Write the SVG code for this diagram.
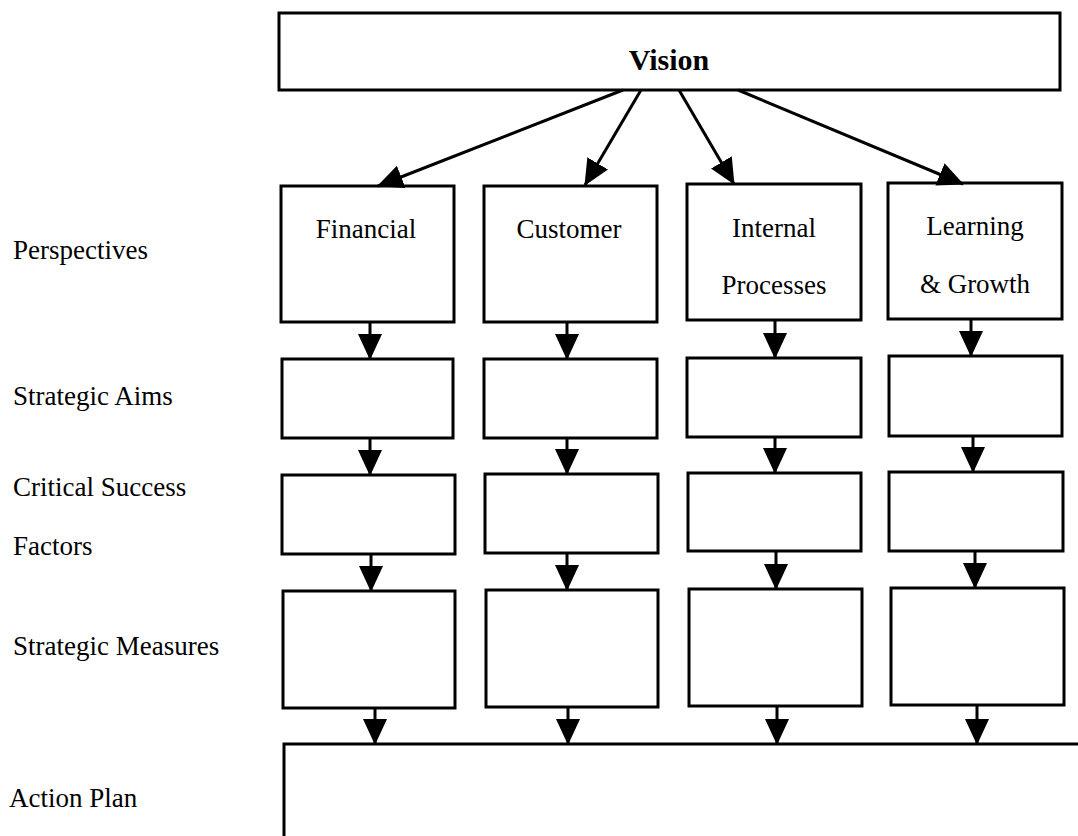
<svg xmlns="http://www.w3.org/2000/svg" width="1078" height="836" viewBox="0 0 1078 836">
  <style>
    .box { fill: #ffffff; stroke: #000000; stroke-width: 3; }
    .lbl { font-family: "Liberation Serif", "Times New Roman", serif; font-size: 27px; fill: #000000; }
    .mid { text-anchor: middle; }
    .title { font-weight: bold; font-size: 30px; }
    .conn { stroke: #000000; stroke-width: 3; fill: none; marker-end: url(#head); }
  </style>
  <defs>
    <marker id="head" markerUnits="userSpaceOnUse" markerWidth="26" markerHeight="24" viewBox="0 0 26 24" refX="25" refY="12" orient="auto">
      <path d="M0,0 L26,12 L0,24 Z" fill="#000000"/>
    </marker>
  </defs>

  <rect width="1078" height="836" fill="#ffffff"/>

  <!-- row labels -->
  <g id="row-labels">
    <text class="lbl" x="13" y="259">Perspectives</text>
    <text class="lbl" x="13" y="405">Strategic Aims</text>
    <text class="lbl" x="13" y="496">Critical Success</text>
    <text class="lbl" x="13" y="555">Factors</text>
    <text class="lbl" x="13" y="655">Strategic Measures</text>
    <text class="lbl" x="9" y="807">Action Plan</text>
  </g>

  <!-- top node -->
  <g id="vision">
    <rect class="box" x="279" y="13" width="781" height="77"/>
    <text class="lbl title mid" x="669" y="70">Vision</text>
  </g>

  <!-- perspectives -->
  <g id="financial">
    <rect class="box" x="281" y="186" width="173" height="136"/>
    <text class="lbl mid" x="366" y="238">Financial</text>
  </g>
  <g id="customer">
    <rect class="box" x="484" y="186" width="173" height="136"/>
    <text class="lbl mid" x="569" y="238">Customer</text>
  </g>
  <g id="internal">
    <rect class="box" x="687" y="184" width="174" height="136"/>
    <text class="lbl mid" x="774" y="237">Internal</text>
    <text class="lbl mid" x="774" y="294">Processes</text>
  </g>
  <g id="learning">
    <rect class="box" x="888" y="183" width="174" height="136"/>
    <text class="lbl mid" x="975" y="235">Learning</text>
    <text class="lbl mid" x="975" y="293">&amp; Growth</text>
  </g>

  <!-- strategic aims -->
  <g id="aims-financial"><rect class="box" x="282" y="359" width="171" height="79"/></g>
  <g id="aims-customer"><rect class="box" x="484" y="359" width="173" height="79"/></g>
  <g id="aims-internal"><rect class="box" x="687" y="358" width="174" height="79"/></g>
  <g id="aims-learning"><rect class="box" x="889" y="356" width="173" height="80"/></g>

  <!-- critical success factors -->
  <g id="csf-financial"><rect class="box" x="282" y="475" width="173" height="79"/></g>
  <g id="csf-customer"><rect class="box" x="485" y="474" width="173" height="79"/></g>
  <g id="csf-internal"><rect class="box" x="688" y="473" width="173" height="78"/></g>
  <g id="csf-learning"><rect class="box" x="889" y="472" width="174" height="79"/></g>

  <!-- strategic measures -->
  <g id="measures-financial"><rect class="box" x="283" y="591" width="172" height="117"/></g>
  <g id="measures-customer"><rect class="box" x="486" y="590" width="172" height="117"/></g>
  <g id="measures-internal"><rect class="box" x="689" y="589" width="173" height="117"/></g>
  <g id="measures-learning"><rect class="box" x="891" y="588" width="173" height="117"/></g>

  <!-- action plan: open-ended frame running off the page -->
  <g id="action-plan">
    <path d="M284,836 L284,744 L1078,744" fill="none" stroke="#000000" stroke-width="3"/>
  </g>

  <g id="connectors">
    <!-- vision to perspectives -->
    <line class="conn" x1="623" y1="90" x2="378" y2="186"/>
    <line class="conn" x1="641" y1="90" x2="585" y2="185"/>
    <line class="conn" x1="679" y1="90" x2="734" y2="184"/>
    <line class="conn" x1="738" y1="90" x2="963" y2="184"/>

    <!-- perspectives to aims -->
    <line class="conn" x1="370" y1="322" x2="370" y2="359"/>
    <line class="conn" x1="567" y1="322" x2="567" y2="359"/>
    <line class="conn" x1="775" y1="320" x2="775" y2="358"/>
    <line class="conn" x1="971" y1="319" x2="971" y2="356"/>

    <!-- aims to factors -->
    <line class="conn" x1="370" y1="438" x2="370" y2="475"/>
    <line class="conn" x1="567" y1="438" x2="567" y2="474"/>
    <line class="conn" x1="775" y1="437" x2="775" y2="473"/>
    <line class="conn" x1="973" y1="436" x2="973" y2="472"/>

    <!-- factors to measures -->
    <line class="conn" x1="371" y1="554" x2="371" y2="591"/>
    <line class="conn" x1="567" y1="553" x2="567" y2="590"/>
    <line class="conn" x1="776" y1="551" x2="776" y2="589"/>
    <line class="conn" x1="975" y1="551" x2="975" y2="588"/>

    <!-- measures to action plan -->
    <line class="conn" x1="375" y1="708" x2="375" y2="744"/>
    <line class="conn" x1="568" y1="707" x2="568" y2="744"/>
    <line class="conn" x1="777" y1="706" x2="777" y2="744"/>
    <line class="conn" x1="977" y1="705" x2="977" y2="744"/>
  </g>
</svg>
